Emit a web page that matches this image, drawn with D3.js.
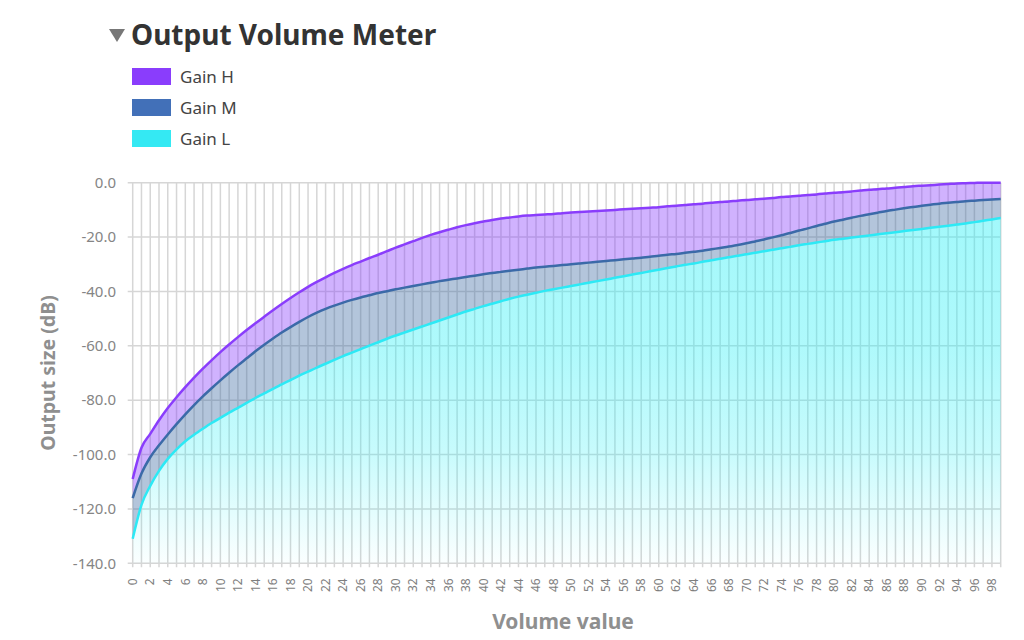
<!DOCTYPE html>
<html>
<head>
<meta charset="utf-8">
<script src="https://cdn.jsdelivr.net/npm/d3@7"></script>
<style>
    html, body { margin: 0; padding: 0; background: #fff; }
    svg { display: block; font-family: "Noto Sans", "Open Sans", sans-serif; }
</style>
</head>
<body>
<div id="chart"></div>
<script>
// ========================================
// DATA
// ========================================

const volumeValues = d3.range(0, 100);

const gainH = [
    -109, -97.5, -92.4, -87.4, -82.9, -78.9, -75.2, -71.7, -68.4, -65.3,
    -62.3, -59.5, -56.8, -54.2, -51.7, -49.3, -46.9, -44.6, -42.4, -40.3,
    -38.3, -36.5, -34.8, -33.2, -31.7, -30.3, -29.0, -27.7, -26.5, -25.2,
    -23.9, -22.7, -21.5, -20.3, -19.2, -18.2, -17.3, -16.4, -15.6, -14.9,
    -14.3, -13.7, -13.2, -12.8, -12.4, -12.1, -11.9, -11.7, -11.5, -11.2,
    -11.0, -10.8, -10.6, -10.4, -10.2, -10.0, -9.8, -9.6, -9.4, -9.2,
    -9.0, -8.7, -8.5, -8.2, -7.9, -7.7, -7.4, -7.1, -6.9, -6.6,
    -6.4, -6.1, -5.9, -5.6, -5.3, -5.1, -4.8, -4.5, -4.3, -4.0,
    -3.7, -3.5, -3.2, -2.9, -2.6, -2.4, -2.1, -1.9, -1.6, -1.3,
    -1.1, -0.9, -0.7, -0.5, -0.3, -0.2, -0.1, 0, 0, 0
];

const gainM = [
    -116, -107, -101, -96.6, -92.6, -88.8, -85.2, -81.8, -78.6, -75.6,
    -72.7, -69.9, -67.2, -64.6, -62.0, -59.6, -57.3, -55.1, -53.1, -51.2,
    -49.4, -47.8, -46.4, -45.2, -44.1, -43.1, -42.2, -41.4, -40.6, -39.9,
    -39.2, -38.6, -38.0, -37.4, -36.8, -36.2, -35.7, -35.2, -34.7, -34.2,
    -33.7, -33.2, -32.8, -32.4, -32.0, -31.6, -31.2, -30.9, -30.6, -30.3,
    -30.0, -29.7, -29.4, -29.1, -28.8, -28.5, -28.2, -27.9, -27.6, -27.2,
    -26.9, -26.5, -26.2, -25.8, -25.4, -25.0, -24.5, -24.0, -23.5, -22.9,
    -22.3, -21.6, -20.9, -20.1, -19.3, -18.5, -17.6, -16.8, -15.9, -15.1,
    -14.3, -13.6, -12.9, -12.2, -11.6, -11.0, -10.4, -9.9, -9.4, -8.9,
    -8.5, -8.1, -7.7, -7.4, -7.1, -6.8, -6.6, -6.4, -6.2, -6.0
];

const gainL = [
    -131, -118.5, -111.5, -106, -101.6, -98.1, -95.1, -92.7, -90.5, -88.4,
    -86.5, -84.6, -82.8, -81.0, -79.2, -77.5, -75.8, -74.2, -72.6, -71.0,
    -69.5, -68.0, -66.6, -65.2, -63.8, -62.5, -61.2, -59.9, -58.7, -57.4,
    -56.2, -55.1, -54.0, -52.9, -51.8, -50.7, -49.6, -48.5, -47.4, -46.4,
    -45.4, -44.5, -43.6, -42.7, -41.9, -41.2, -40.5, -39.8, -39.2, -38.6,
    -38.0, -37.4, -36.8, -36.2, -35.6, -35.0, -34.4, -33.8, -33.2, -32.6,
    -32.0, -31.4, -30.8, -30.2, -29.7, -29.1, -28.5, -28.0, -27.4, -26.9,
    -26.3, -25.8, -25.2, -24.7, -24.1, -23.6, -23.0, -22.5, -22.0, -21.5,
    -21.0, -20.6, -20.2, -19.8, -19.4, -19.0, -18.6, -18.2, -17.8, -17.4,
    -17.0, -16.6, -16.2, -15.8, -15.4, -15.0, -14.5, -14.0, -13.5, -13.0
];

const seriesNames = ['Gain H', 'Gain M', 'Gain L'];
const seriesColors = ['#8a3dfc', '#4270b8', '#34e9f3'];
const yTicks = [0, -20, -40, -60, -80, -100, -120, -140];
const xTickLabels = d3.range(0, 100, 2);

// ========================================
// CHART
// ========================================

const width = 1024, height = 640;
const margin = { left: 132.7, right: 23.3, top: 182.7, bottom: 76.7 };

const svg = d3.select('#chart').append('svg')
    .attr('width', width)
    .attr('height', height);

const x = d3.scaleLinear()
    .domain([0, 99])
    .range([margin.left, width - margin.right]);

const y = d3.scaleLinear()
    .domain([-140, 0])
    .range([height - margin.bottom, margin.top]);

const defs = svg.append('defs');
const grad = defs.append('linearGradient')
    .attr('id', 'cyanFade')
    .attr('gradientUnits', 'userSpaceOnUse')
    .attr('x1', 0).attr('x2', 0)
    .attr('y1', y(0)).attr('y2', y(-140));
[[0, 0.46], [0.45, 0.38], [0.7, 0.27], [0.88, 0.12], [1, 0.02]].forEach(([o, a]) => {
    grad.append('stop')
        .attr('offset', o)
        .attr('stop-color', '#2ef0f6')
        .attr('stop-opacity', a);
});

// Title with collapse arrow
svg.append('path')
    .attr('d', 'M109,29 L125,29 L117,42 Z')
    .attr('fill', '#777');

svg.append('text')
    .attr('x', 131)
    .attr('y', 45)
    .attr('font-size', 28)
    .attr('font-weight', 'bold')
    .attr('fill', '#333')
    .text('Output Volume Meter');

// Legend
const legend = svg.append('g');
seriesNames.forEach((name, i) => {
    const ly = 68 + i * 31;
    legend.append('rect')
        .attr('x', 132).attr('y', ly)
        .attr('width', 39).attr('height', 17)
        .attr('fill', seriesColors[i]);
    legend.append('text')
        .attr('x', 180).attr('y', ly + 14.5)
        .attr('font-size', 17)
        .attr('fill', '#444')
        .text(name);
});

// Grid
const grid = svg.append('g').attr('stroke', '#d6d6d6').attr('stroke-width', 1.5);

grid.selectAll('.vgrid')
    .data(volumeValues)
    .enter().append('line')
    .attr('class', 'vgrid')
    .attr('x1', d => x(d)).attr('x2', d => x(d))
    .attr('y1', y(0)).attr('y2', y(-140) + 4);

grid.selectAll('.hgrid')
    .data(yTicks)
    .enter().append('line')
    .attr('class', 'hgrid')
    .attr('x1', x(0) - 5).attr('x2', x(99))
    .attr('y1', d => y(d)).attr('y2', d => y(d));

// Y tick labels
svg.append('g').selectAll('text')
    .data(yTicks)
    .enter().append('text')
    .attr('x', 116)
    .attr('y', d => y(d))
    .attr('dy', '0.35em')
    .attr('text-anchor', 'end')
    .attr('font-size', 15)
    .attr('fill', '#858585')
    .text(d => d.toFixed(1));

// X tick labels (rotated)
svg.append('g').selectAll('text')
    .data(xTickLabels)
    .enter().append('text')
    .attr('transform', d => `translate(${x(d)},${y(-140) + 15}) rotate(-90)`)
    .attr('dy', '0.35em')
    .attr('text-anchor', 'end')
    .attr('font-size', 12)
    .attr('fill', '#7e7e7e')
    .text(d => d);

// Axis titles
svg.append('text')
    .attr('transform', `translate(55,${(y(0) + y(-140)) / 2}) rotate(-90)`)
    .attr('text-anchor', 'middle')
    .attr('font-size', 19.5)
    .attr('font-weight', 'bold')
    .attr('fill', '#8f8f8f')
    .text('Output size (dB)');

svg.append('text')
    .attr('x', 563)
    .attr('y', 629)
    .attr('text-anchor', 'middle')
    .attr('font-size', 21)
    .attr('font-weight', 'bold')
    .attr('fill', '#8f8f8f')
    .text('Volume value');

// Bands
const curve = d3.curveMonotoneX;
const band = (top, bottom) => d3.area()
    .curve(curve)
    .x(d => x(d))
    .y0(d => y(bottom(d)))
    .y1(d => y(top(d)));

const bands = svg.append('g');

bands.append('path')
    .datum(volumeValues)
    .attr('d', band(i => gainH[i], i => gainM[i]))
    .attr('fill', '#8a3ffc')
    .attr('fill-opacity', 0.4);

bands.append('path')
    .datum(volumeValues)
    .attr('d', band(i => gainM[i], i => gainL[i]))
    .attr('fill', '#426ea6')
    .attr('fill-opacity', 0.4);

bands.append('path')
    .datum(volumeValues)
    .attr('d', band(i => gainL[i], () => -140))
    .attr('fill', 'url(#cyanFade)');

// Lines
const lineData = [gainH, gainM, gainL];
const lineColors = ['#8a3dfc', '#3b6aa8', '#2de9f5'];

svg.append('g').selectAll('path')
    .data(lineData)
    .enter().append('path')
    .attr('d', d3.line().curve(curve).x((v, i) => x(volumeValues[i])).y(v => y(v)))
    .attr('fill', 'none')
    .attr('stroke', (d, i) => lineColors[i])
    .attr('stroke-width', 2.5);
</script>
</body>
</html>
